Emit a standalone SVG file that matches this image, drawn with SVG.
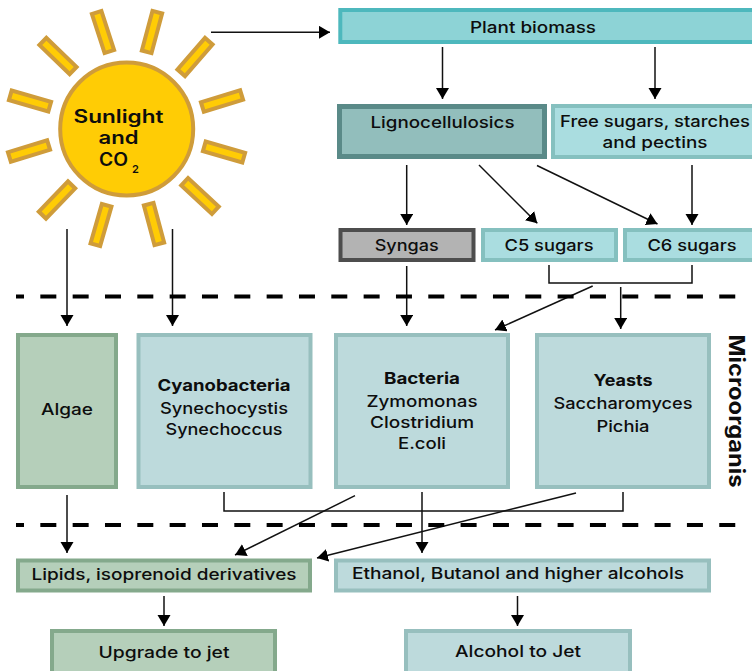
<svg xmlns="http://www.w3.org/2000/svg" width="752" height="671" viewBox="0 0 752 671">
<style>
text{font-family:"Inter","Liberation Sans",sans-serif;font-size:16px;font-weight:500;fill:#0d0d0d;text-anchor:middle}
.b{font-weight:700}
.s{font-size:18px;font-weight:600}
.ray{fill:#ffcc05;stroke:#cf9c3a;stroke-width:4}
.n{stroke-width:4}
.teal{fill:#aadde0;stroke:#85c0bf}
.pale{fill:#bddadc;stroke:#97bfbe}
.green{fill:#b5cfba;stroke:#84a98c}
.c{fill:none;stroke:#111;stroke-width:1.5}
.a{marker-end:url(#h)}
.d{fill:none;stroke:#000;stroke-width:4;stroke-dasharray:16 16.33;stroke-dashoffset:8}
</style>
<defs><marker id="h" markerUnits="userSpaceOnUse" markerWidth="14" markerHeight="14" refX="11" refY="6.5" orient="auto"><path d="M0 0L11 6.5L0 13Z" fill="#000"/></marker></defs>
<g id="sun">
<g id="rays">
<rect class="ray" x="-5" y="-20.5" width="10" height="41" transform="translate(103 32) rotate(-18)"/>
<rect class="ray" x="-5" y="-20.5" width="10" height="41" transform="translate(152 32) rotate(15)"/>
<rect class="ray" x="-5" y="-21" width="10" height="42" transform="translate(195 57) rotate(41)"/>
<rect class="ray" x="-5" y="-20.5" width="10" height="41" transform="translate(222 101) rotate(73)"/>
<rect class="ray" x="-5" y="-20.5" width="10" height="41" transform="translate(224 152) rotate(106)"/>
<rect class="ray" x="-5" y="-21" width="10" height="42" transform="translate(200 196) rotate(133)"/>
<rect class="ray" x="-5" y="-20.5" width="10" height="41" transform="translate(154 224) rotate(-15)"/>
<rect class="ray" x="-5" y="-20.5" width="10" height="41" transform="translate(101 225) rotate(16)"/>
<rect class="ray" x="-5" y="-21" width="10" height="42" transform="translate(57 200) rotate(44)"/>
<rect class="ray" x="-5" y="-20.5" width="10" height="41" transform="translate(29 151) rotate(73)"/>
<rect class="ray" x="-5" y="-20.5" width="10" height="41" transform="translate(30 101) rotate(-74)"/>
<rect class="ray" x="-5" y="-21" width="10" height="42" transform="translate(58 56) rotate(-46)"/>
</g>
<circle cx="126.7" cy="129" r="66.5" fill="#ffcc05" stroke="#cf9c3a" stroke-width="4"/>
<text class="s" x="118.500" y="122.700" textLength="90" lengthAdjust="spacingAndGlyphs">Sunlight</text>
<text class="s" x="118.500" y="144.200" textLength="40" lengthAdjust="spacingAndGlyphs">and</text>
<text class="s" x="113.500" y="165.900" textLength="29" lengthAdjust="spacingAndGlyphs">CO</text>
<text x="135.500" y="172.500" style="font-size:11px;font-weight:600">2</text>
</g>
<g id="connectors">
<path class="c a" d="M211 32.3H330"/>
<path class="c a" d="M67 229V326"/>
<path class="c a" d="M172.500 229V326"/>
<path class="c a" d="M442.500 47V99"/>
<path class="c a" d="M655 47V99"/>
<path class="c a" d="M406.700 165V225"/>
<path class="c a" d="M479 165L537.300 223.300"/>
<path class="c a" d="M537 165.500L657.500 224"/>
<path class="c a" d="M692 165V225"/>
<path class="c a" d="M406.700 266V326"/>
<path class="c" d="M549 265V283H692V265"/>
<path class="c a" d="M592.700 286L495 330"/>
<path class="c a" d="M620.700 287V329"/>
<path class="c a" d="M67 495V553"/>
<path class="c" d="M224 492V511H623V492"/>
<path class="c a" d="M355 495.700L235 555"/>
<path class="c a" d="M576 493L317 558"/>
<path class="c a" d="M422 492V553"/>
<path class="c a" d="M164 596V626"/>
<path class="c a" d="M517.500 596V626"/>
</g>
<path id="divider-top" class="d" d="M16 296.600H737"/>
<path id="divider-bottom" class="d" d="M16 525H737"/>
<g id="plant-biomass"><rect x="340.300" y="10" width="430" height="32" fill="#8dd3d6" stroke="#4db8bd" stroke-width="4"/><text x="533" y="33" textLength="126" lengthAdjust="spacingAndGlyphs">Plant biomass</text></g>
<g id="lignocellulosics"><rect x="339.500" y="106.500" width="205" height="50" fill="#92bebc" stroke="#5a8a88" stroke-width="5"/><text x="442.500" y="128" textLength="144" lengthAdjust="spacingAndGlyphs">Lignocellulosics</text></g>
<g id="free-sugars"><rect class="n teal" x="553" y="106" width="220" height="51"/><text x="655" y="127" textLength="190" lengthAdjust="spacingAndGlyphs">Free sugars, starches</text><text x="655" y="148" textLength="105" lengthAdjust="spacingAndGlyphs">and pectins</text></g>
<g id="syngas"><rect x="340.500" y="230" width="133" height="30" fill="#b3b3b3" stroke="#4d4d4d" stroke-width="4"/><text x="406.700" y="251" textLength="64" lengthAdjust="spacingAndGlyphs">Syngas</text></g>
<g id="c5-sugars"><rect class="n teal" x="483" y="230" width="133" height="30"/><text x="549" y="251" textLength="89" lengthAdjust="spacingAndGlyphs">C5 sugars</text></g>
<g id="c6-sugars"><rect class="n teal" x="625" y="230" width="140" height="30"/><text x="692" y="251" textLength="89" lengthAdjust="spacingAndGlyphs">C6 sugars</text></g>
<g id="algae"><rect class="n green" x="18" y="335" width="98" height="152"/><text x="67" y="415" textLength="52" lengthAdjust="spacingAndGlyphs">Algae</text></g>
<g id="cyanobacteria"><rect class="n pale" x="138.500" y="335" width="172" height="152"/><text class="b" x="224" y="391" textLength="133" lengthAdjust="spacingAndGlyphs">Cyanobacteria</text><text x="224" y="414" textLength="128" lengthAdjust="spacingAndGlyphs">Synechocystis</text><text x="224" y="435" textLength="117" lengthAdjust="spacingAndGlyphs">Synechoccus</text></g>
<g id="bacteria"><rect class="n pale" x="336" y="335" width="172" height="152"/><text class="b" x="422" y="384" textLength="76" lengthAdjust="spacingAndGlyphs">Bacteria</text><text x="422" y="407" textLength="111" lengthAdjust="spacingAndGlyphs">Zymomonas</text><text x="422" y="428" textLength="104" lengthAdjust="spacingAndGlyphs">Clostridium</text><text x="422" y="449" textLength="48" lengthAdjust="spacingAndGlyphs">E.coli</text></g>
<g id="yeasts"><rect class="n pale" x="537" y="335" width="172" height="152"/><text class="b" x="623" y="386" textLength="59" lengthAdjust="spacingAndGlyphs">Yeasts</text><text x="623" y="409" textLength="139" lengthAdjust="spacingAndGlyphs">Saccharomyces</text><text x="623" y="432" textLength="53" lengthAdjust="spacingAndGlyphs">Pichia</text></g>
<text id="microorganisms-label" class="b" transform="translate(729 411) rotate(90)" style="font-size:21px" textLength="153" lengthAdjust="spacingAndGlyphs">Microorganis</text>
<g id="lipids"><rect class="n green" x="18" y="560.500" width="292" height="30"/><text x="164" y="580" textLength="265" lengthAdjust="spacingAndGlyphs">Lipids, isoprenoid derivatives</text></g>
<g id="alcohols"><rect class="n pale" x="336" y="560.500" width="373" height="30"/><text x="518" y="579" textLength="332" lengthAdjust="spacingAndGlyphs">Ethanol, Butanol and higher alcohols</text></g>
<g id="upgrade"><rect class="n green" x="52" y="631" width="223" height="60"/><text x="164" y="658" textLength="131" lengthAdjust="spacingAndGlyphs">Upgrade to jet</text></g>
<g id="alcohol-to-jet"><rect class="n pale" x="406" y="631" width="224" height="60"/><text x="518" y="657" textLength="126" lengthAdjust="spacingAndGlyphs">Alcohol to Jet</text></g>
</svg>
